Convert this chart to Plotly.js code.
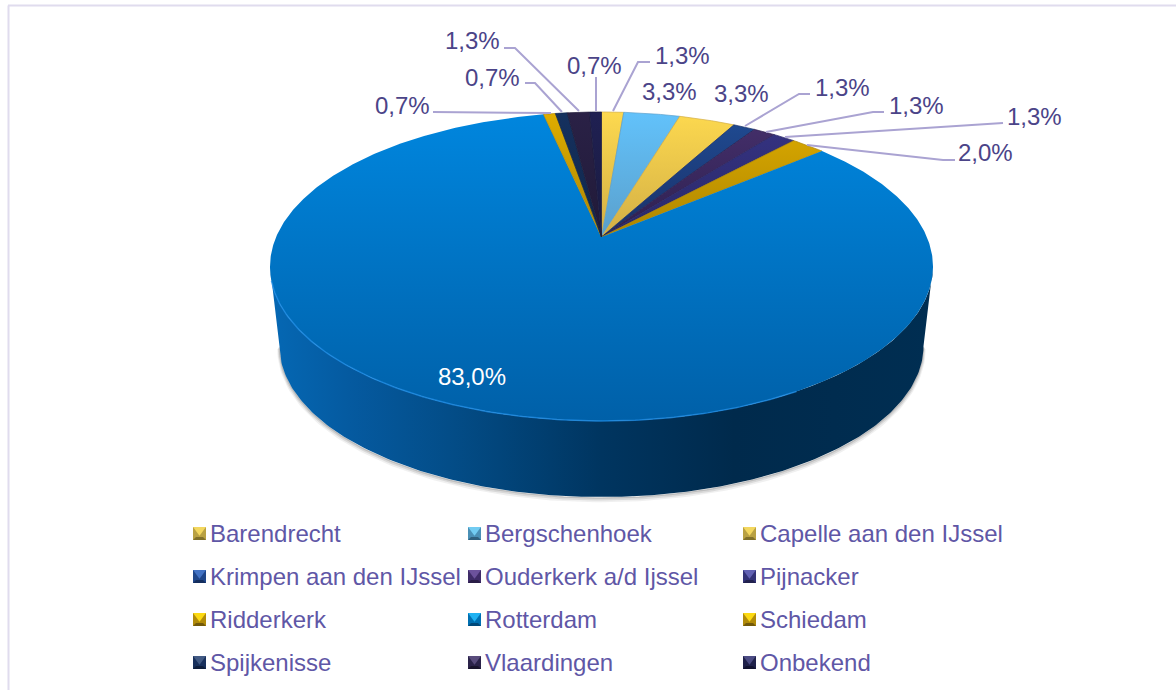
<!DOCTYPE html>
<html>
<head>
<meta charset="utf-8">
<script src="https://cdn.plot.ly/plotly-3.0.1.min.js"></script>
<style>html,body{margin:0;padding:0;background:#fff}#chart{width:1176px;height:690px}</style>
</head>
<body>
<div id="chart"></div>
<script>
// Data
var categories = ["Barendrecht","Bergschenhoek","Capelle aan den IJssel","Krimpen aan den IJssel","Ouderkerk a/d Ijssel","Pijnacker","Ridderkerk","Rotterdam","Schiedam","Spijkenisse","Vlaardingen","Onbekend"];
var shares = [1.3,3.3,3.3,1.3,1.3,1.3,2.0,83.0,0.7,0.7,1.3,0.7];
var shareLabels = ["1,3%","3,3%","3,3%","1,3%","1,3%","1,3%","2,0%","83,0%","0,7%","0,7%","1,3%","0,7%"];

// Styles
var sliceTop = ["#fdd94f","#62c2fb","#fdd94f","#1f4c94","#46306c","#363484","#dfad00","#0086de","#dfad00","#15315f","#2a2146","#1f2052"];
var sliceLow = ["#d2ae45","#5a9fcb","#d2ae45","#1a2f66","#2d2050","#2a2868","#ad8500","#0060a8","#ad8500","#10264a","#201a38","#1a1b40"];
var swLight = ["#f3d75f","#72ccf2","#f3d75f","#4272c4","#6c529c","#6262b4","#fcd912","#1fb2f2","#fcd912","#425a84","#594c7c","#4c4c84"];
var swSide  = ["#b9a142","#4a90b6","#b9a142","#1f468a","#3f2c68","#333378","#b18b0a","#0070b2","#b18b0a","#18305c","#2b2349","#1f214a"];
var swDark  = ["#80702a","#2f607e","#80702a","#142e5e","#291d46","#21214e","#72590a","#00497a","#72590a","#0f1e3c","#1a152c","#121330"];
var legendCols = [191,466,741];
var legendRows = [533.5,576.5,619.5,662.5];
var labelFont = "Liberation Sans, Arial, sans-serif";

// Geometry of the tilted pie
var apexX = 601.5, apexY = 237, persp = 0.191, spanX = 325.4, spanY = 148.9;
function project(theta){
  var u = Math.sin(theta), v = Math.cos(theta), w = 1 + persp*v;
  return [apexX + spanX*u/w, apexY - spanY*v/w];
}
var topRim = {cx:601.5, cy:266.5, rx:331.5, ry:154.5};
var lowRim = {cx:601.5, cy:346, rx:322, ry:151};
function rimArc(r, a0, a1, n, dx, dy){
  var xs=[], ys=[];
  for(var i=0;i<=n;i++){var a=a0+(a1-a0)*i/n; xs.push(r.cx+(dx||0)+r.rx*Math.cos(a)); ys.push(r.cy+(dy||0)+r.ry*Math.sin(a));}
  return [xs,ys];
}

var traces = [];

// Soft shadow under the wall
[[3,0.08],[2,0.12],[1,0.18]].forEach(function(s){
  var arc = rimArc(lowRim, 0, Math.PI, 160, 0, s[0]);
  traces.push({type:"scatter",mode:"lines",x:arc[0],y:arc[1],line:{color:"rgba(60,60,60,"+s[1]+")",width:s[0]*1.5},hoverinfo:"skip",showlegend:false});
});

// Wall of the pie
var tArc = rimArc(topRim, 0, Math.PI, 200);
var lArc = rimArc(lowRim, Math.PI, 0, 200);
traces.push({type:"scatter",mode:"lines",x:tArc[0].concat(lArc[0]),y:tArc[1].concat(lArc[1]),fill:"toself",
  line:{width:0,color:"rgba(0,0,0,0)"},hoverinfo:"skip",showlegend:false,
  fillgradient:{type:"horizontal",start:270,stop:933,colorscale:[[0,"#0568b4"],[0.12,"#055aa0"],[0.27,"#034d88"],[0.5,"#003560"],[0.7,"#002a4c"],[1,"#002e52"]]}});

// Slices on the top face
var total = shares.reduce(function(a,b){return a+b;},0);
var run = 0, isRotterdam = categories.indexOf("Rotterdam");
shares.forEach(function(v,i){
  var a0 = run/total*2*Math.PI; run += v; var a1 = run/total*2*Math.PI;
  var xs=[apexX], ys=[apexY], n=Math.max(6,Math.ceil((a1-a0)/0.008));
  for(var k=0;k<=n;k++){var p=project(a0+(a1-a0)*k/n); xs.push(p[0]); ys.push(p[1]);}
  xs.push(apexX); ys.push(apexY);
  traces.push({type:"scatter",mode:"lines",name:categories[i],x:xs,y:ys,fill:"toself",
    line:{width:0.7,color:i===isRotterdam?"rgba(0,0,0,0)":sliceLow[i]},
    text:categories[i]+": "+shareLabels[i],hoverinfo:"text",hoveron:"fills",showlegend:false,
    fillgradient:{type:"vertical",start:112,stop:i===isRotterdam?421:237,colorscale:[[0,sliceTop[i]],[1,sliceLow[i]]]}});
});

// Bright rim on the front of the blue slice
var rimHi = rimArc(topRim, Math.PI*0.30, Math.PI*0.97, 160);
traces.push({type:"scatter",mode:"lines",x:rimHi[0],y:rimHi[1],line:{color:"rgba(30,140,230,0.75)",width:1.5},hoverinfo:"skip",showlegend:false});

// Leader lines
var leaderColor = "#aaa3d2";
var leaders = [
  [[613,638,650],[111,62,62]],
  [[745,799,810],[126,94,94]],
  [[766,873,884],[132,112,112]],
  [[785,993,1003],[137,123,123]],
  [[807,943,955],[145,160,160]],
  [[433,551],[112,113]],
  [[525,535,562],[83,83,112]],
  [[504,515,579],[48,48,111]],
  [[596,596],[77,111]]
];
leaders.forEach(function(l){
  traces.push({type:"scatter",mode:"lines",x:l[0],y:l[1],line:{color:leaderColor,width:2},hoverinfo:"skip",showlegend:false});
});

// Legend swatches
var swatchSize = 13;
categories.forEach(function(c,i){
  var col = i%3, row = Math.floor(i/3);
  var x0 = legendCols[col]+2, y0 = legendRows[row]-swatchSize/2, s = swatchSize, m = s/2;
  function poly(xs,ys,color){traces.push({type:"scatter",mode:"lines",x:xs,y:ys,fill:"toself",fillcolor:color,line:{width:0,color:"rgba(0,0,0,0)"},hoverinfo:"skip",showlegend:false});}
  poly([x0,x0+s,x0+s,x0,x0],[y0,y0,y0+s,y0+s,y0],swSide[i]);
  poly([x0,x0+s,x0+m,x0],[y0,y0,y0+s*0.68,y0],swLight[i]);
  poly([x0,x0+s,x0+s-3,x0+3,x0],[y0+s,y0+s,y0+s-3,y0+s-3,y0+s],swDark[i]);
});

// Text
var labelPos = [[682,55],[669,91],[741,93],[842,87],[916,105],[1034,116],[985,152],[472,376],[402,105],[492,77],[472,40],[594,65]];
var annotations = shareLabels.map(function(t,i){
  return {x:labelPos[i][0],y:labelPos[i][1],xref:"x",yref:"y",text:t,showarrow:false,xanchor:"center",yanchor:"middle",
    font:{family:labelFont,size:24,color:i===isRotterdam?"#ffffff":"#4b4488"}};
});
categories.forEach(function(c,i){
  annotations.push({x:legendCols[i%3]+17,y:legendRows[Math.floor(i/3)],xref:"x",yref:"y",text:c,showarrow:false,xanchor:"left",yanchor:"middle",
    font:{family:labelFont,size:24,color:"#5f57a6"}});
});

var layout = {
  width:1176,height:690,margin:{l:0,r:0,t:0,b:0},
  paper_bgcolor:"#ffffff",plot_bgcolor:"#ffffff",showlegend:false,
  xaxis:{range:[0,1176],visible:false,fixedrange:true},
  yaxis:{range:[690,0],visible:false,fixedrange:true},
  annotations:annotations,
  shapes:[
    {type:"line",xref:"x",yref:"y",x0:8.5,x1:8.5,y0:5.5,y1:690,line:{color:"#e0dcee",width:2}},
    {type:"line",xref:"x",yref:"y",x0:8,x1:1176,y0:5.5,y1:5.5,line:{color:"#e0dcee",width:2}}
  ]
};
Plotly.newPlot("chart",traces,layout,{displayModeBar:false});
</script>
</body>
</html>
